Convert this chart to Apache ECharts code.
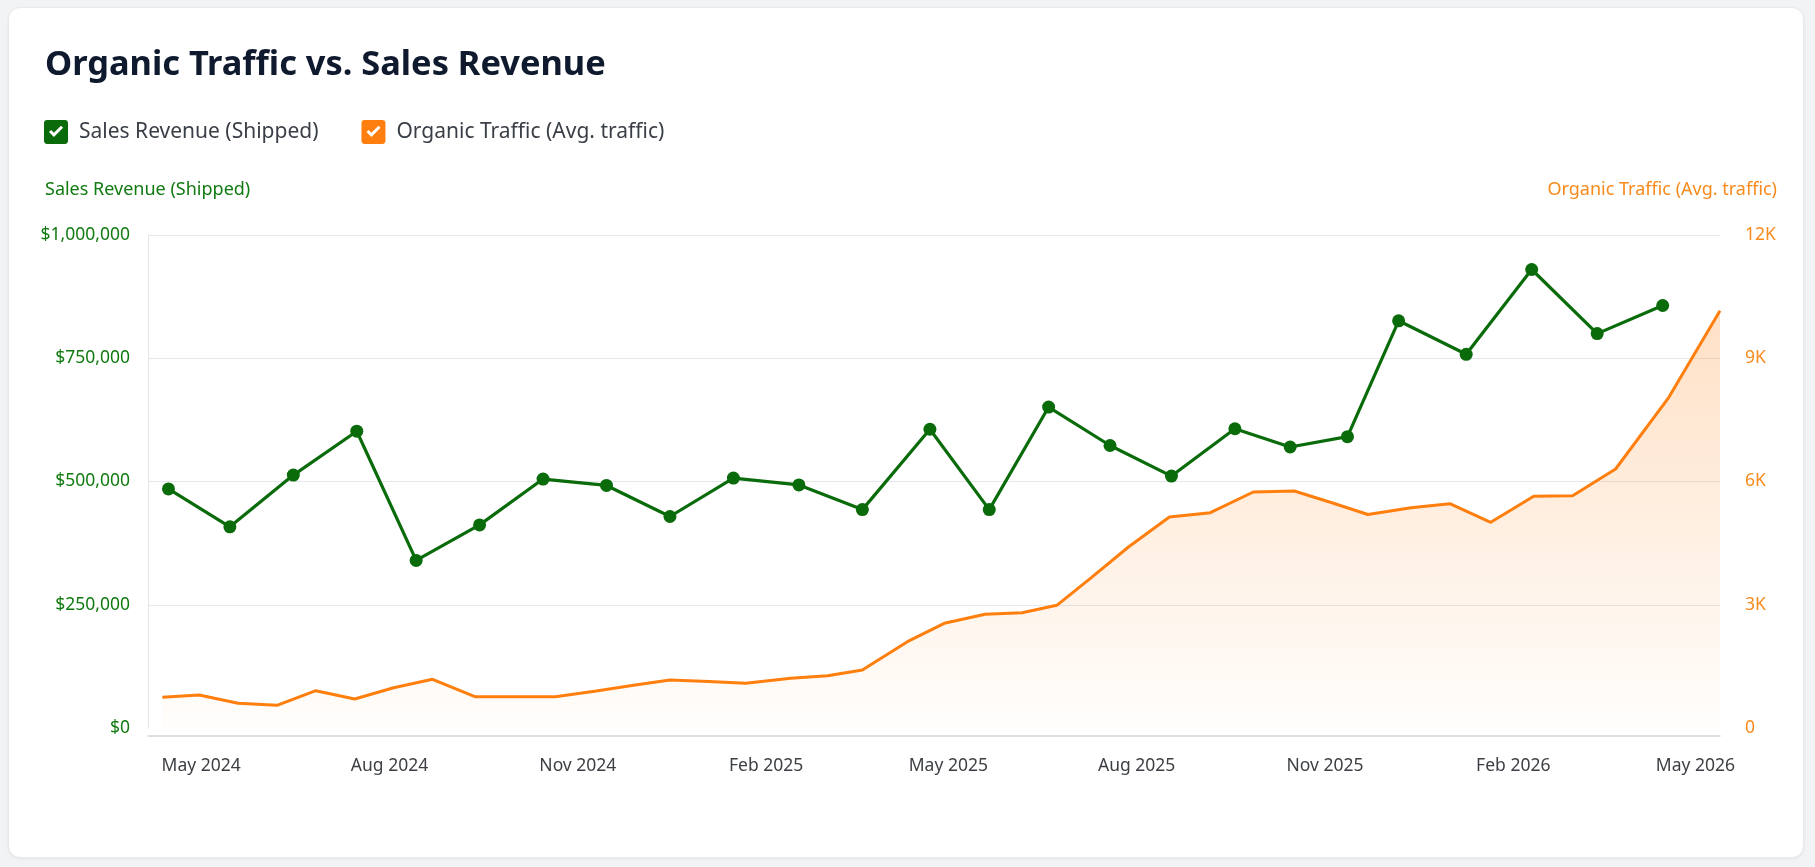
<!DOCTYPE html>
<html>
<head>
<meta charset="utf-8">
<title>Organic Traffic vs. Sales Revenue</title>
<script src="https://cdn.jsdelivr.net/npm/echarts@6/dist/echarts.min.js"></script>
<style>
  html, body { margin: 0; height: 100%; background: #f2f3f5; }
  .pannel {
    position: absolute; left: 8px; top: 7px; width: 1796px; height: 851px;
    background: #fff; border: 1px solid #e8e9ec; border-radius: 12px;
    box-shadow: 0 1px 3px rgba(15, 23, 42, 0.06); box-sizing: border-box; overflow: hidden;
  }
  .charts { width: 100%; height: 100%; }
</style>
</head>
<body>
<div class="pannel"><div id="chart" class="charts"></div></div>
<script>
  // monthly revenue (green, markers)
  const salesDates = [
    '2024-04-15', '2024-05-15', '2024-06-15', '2024-07-16', '2024-08-14', '2024-09-14',
    '2024-10-15', '2024-11-15', '2024-12-16', '2025-01-16', '2025-02-17', '2025-03-20',
    '2025-04-22', '2025-05-21', '2025-06-19', '2025-07-19', '2025-08-18', '2025-09-18',
    '2025-10-15', '2025-11-12', '2025-12-07', '2026-01-09', '2026-02-10', '2026-03-14',
    '2026-04-15'
  ]
  const salesRevenue = [
    485000, 408000, 513000, 602000, 340000, 412000,
    505000, 492000, 429000, 507000, 493000, 443000,
    606000, 443000, 651000, 573000, 511000, 607000,
    570000, 591000, 826000, 758000, 930000, 800000,
    857000
  ]

  // organic traffic (orange, area)
  const trafficDates = [
    '2024-04-12', '2024-04-30', '2024-05-19', '2024-06-07', '2024-06-26', '2024-07-15',
    '2024-08-03', '2024-08-22', '2024-09-12', '2024-10-02', '2024-10-21', '2024-11-10',
    '2024-11-29', '2024-12-16', '2025-01-04', '2025-01-22', '2025-02-13', '2025-03-03',
    '2025-03-20', '2025-04-11', '2025-04-29', '2025-05-19', '2025-06-06', '2025-06-23',
    '2025-07-10', '2025-07-28', '2025-08-17', '2025-09-06', '2025-09-27', '2025-10-17',
    '2025-11-04', '2025-11-22', '2025-12-13', '2026-01-01', '2026-01-21', '2026-02-11',
    '2026-03-02', '2026-03-23', '2026-04-18', '2026-05-13'
  ]
  const organicTraffic = [
    747, 803, 601, 553, 908, 706,
    981, 1185, 760, 760, 760, 903,
    1047, 1168, 1132, 1088, 1210, 1273,
    1412, 2101, 2548, 2770, 2806, 2986,
    3668, 4406, 5136, 5241, 5744, 5769,
    5489, 5197, 5362, 5459, 5007, 5640,
    5654, 6304, 8049, 10157
  ]

  const xTickDates = [
    '2024-05-01', '2024-08-01', '2024-11-01', '2025-02-01', '2025-05-01',
    '2025-08-01', '2025-11-01', '2026-02-01', '2026-05-01'
  ]
  const revenueTicks = [0, 250000, 500000, 750000, 1000000]
  const trafficTicks = [0, 3000, 6000, 9000, 12000]
  const monthNames = ['Jan', 'Feb', 'Mar', 'Apr', 'May', 'Jun', 'Jul', 'Aug', 'Sep', 'Oct', 'Nov', 'Dec']

  const FONT = '"Noto Sans", "Open Sans", sans-serif'
  const GREEN = '#0a6b0a'
  const GREEN_TEXT = '#117a11'
  const ORANGE = '#ff7f0e'
  const ORANGE_TEXT = '#f98a1c'

  // rounded box with a check cut out of it
  const checkIcon = 'path://M3,0H20A3,3,0,0,1,23,3V20A3,3,0,0,1,20,23H3A3,3,0,0,1,0,20V3A3,3,0,0,1,3,0Z' +
    'M4.8,11.6L9.5,16.3L18.3,7.5L16.3,5.5L9.5,12.3L6.8,9.6Z'

  const toTime = d => echarts.number.parseDate(d).getTime()

  let chart = echarts.init(document.getElementById('chart'))
  let options = {
    animation: false,
    textStyle: { fontFamily: FONT },
    title: {
      text: 'Organic Traffic vs. Sales Revenue',
      left: 36,
      top: 40,
      padding: 0,
      textStyle: { fontSize: 34.4, fontWeight: 'bold', color: '#0f1a2e', fontFamily: FONT }
    },
    legend: {
      left: 35,
      top: 112,
      padding: 0,
      itemWidth: 24,
      itemHeight: 24,
      itemGap: 43,
      icon: checkIcon,
      selectedMode: false,
      itemStyle: { borderWidth: 0 },
      textStyle: { fontSize: 21, color: '#3a3f47', fontFamily: FONT, padding: [0, 0, 0, 6] },
      data: ['Sales Revenue (Shipped)', 'Organic Traffic (Avg. traffic)']
    },
    grid: {
      left: 139,
      right: 83,
      top: 227,
      bottom: 129
    },
    // dates as timestamps on a linear axis
    xAxis: {
      type: 'value',
      min: toTime('2024-04-05'),
      max: toTime(trafficDates[trafficDates.length - 1]),
      offset: 8,
      axisLine: { onZero: false, lineStyle: { color: '#d3d5da', width: 1.5 } },
      axisTick: { show: false },
      splitLine: { show: false },
      axisLabel: {
        customValues: xTickDates.map(toTime),
        formatter: v => {
          let d = new Date(v)
          return monthNames[d.getMonth()] + ' ' + d.getFullYear()
        },
        hideOverlap: false,
        fontSize: 17.5,
        color: '#3c3f44',
        margin: 21
      }
    },
    yAxis: [{
        type: 'value',
        position: 'left',
        min: revenueTicks[0],
        max: revenueTicks[revenueTicks.length - 1],
        interval: revenueTicks[1] - revenueTicks[0],
        name: 'Sales Revenue (Shipped)',
        nameLocation: 'end',
        nameGap: 45,
        nameTextStyle: {
          color: GREEN_TEXT, fontSize: 18, align: 'left', verticalAlign: 'middle',
          padding: [0, 0, 0, -103]
        },
        axisLine: { show: true, lineStyle: { color: '#e3e4e8' } },
        axisTick: { show: false },
        splitLine: { lineStyle: { color: '#e6e7eb' }, showMinLine: false },
        axisLabel: {
          formatter: v => '$' + v.toLocaleString('en-US'),
          color: GREEN_TEXT,
          fontSize: 17.5,
          margin: 18
        }
      },
      {
        type: 'value',
        position: 'right',
        min: trafficTicks[0],
        max: trafficTicks[trafficTicks.length - 1],
        interval: trafficTicks[1] - trafficTicks[0],
        name: 'Organic Traffic (Avg. traffic)',
        nameLocation: 'end',
        nameGap: 45,
        nameTextStyle: {
          color: ORANGE_TEXT, fontSize: 18, align: 'right', verticalAlign: 'middle',
          padding: [0, -57, 0, 0]
        },
        axisLine: { show: false },
        axisTick: { show: false },
        splitLine: { show: false },
        axisLabel: {
          formatter: v => v === 0 ? '0' : (v / 1000) + 'K',
          color: ORANGE_TEXT,
          fontSize: 17.5,
          margin: 25
        }
      }
    ],
    series: [{
        name: 'Sales Revenue (Shipped)',
        type: 'line',
        yAxisIndex: 0,
        z: 3,
        symbol: 'circle',
        symbolSize: 13,
        lineStyle: { width: 3.2, color: GREEN },
        itemStyle: { color: GREEN },
        data: salesDates.map((d, i) => [toTime(d), salesRevenue[i]])
      },
      {
        name: 'Organic Traffic (Avg. traffic)',
        type: 'line',
        yAxisIndex: 1,
        z: 2,
        symbol: 'none',
        lineStyle: { width: 3, color: ORANGE },
        itemStyle: { color: ORANGE },
        areaStyle: {
          color: new echarts.graphic.LinearGradient(0, 0, 0, 1, [
            { offset: 0, color: 'rgba(255, 127, 14, 0.34)' },
            { offset: 1, color: 'rgba(255, 127, 14, 0.02)' }
          ])
        },
        data: trafficDates.map((d, i) => [toTime(d), organicTraffic[i]])
      }
    ]
  }
  chart.setOption(options, true)

  window.addEventListener('resize', function() {
    setTimeout(() => {
      chart.resize()
    }, 100)
  })
</script>
</body>
</html>
